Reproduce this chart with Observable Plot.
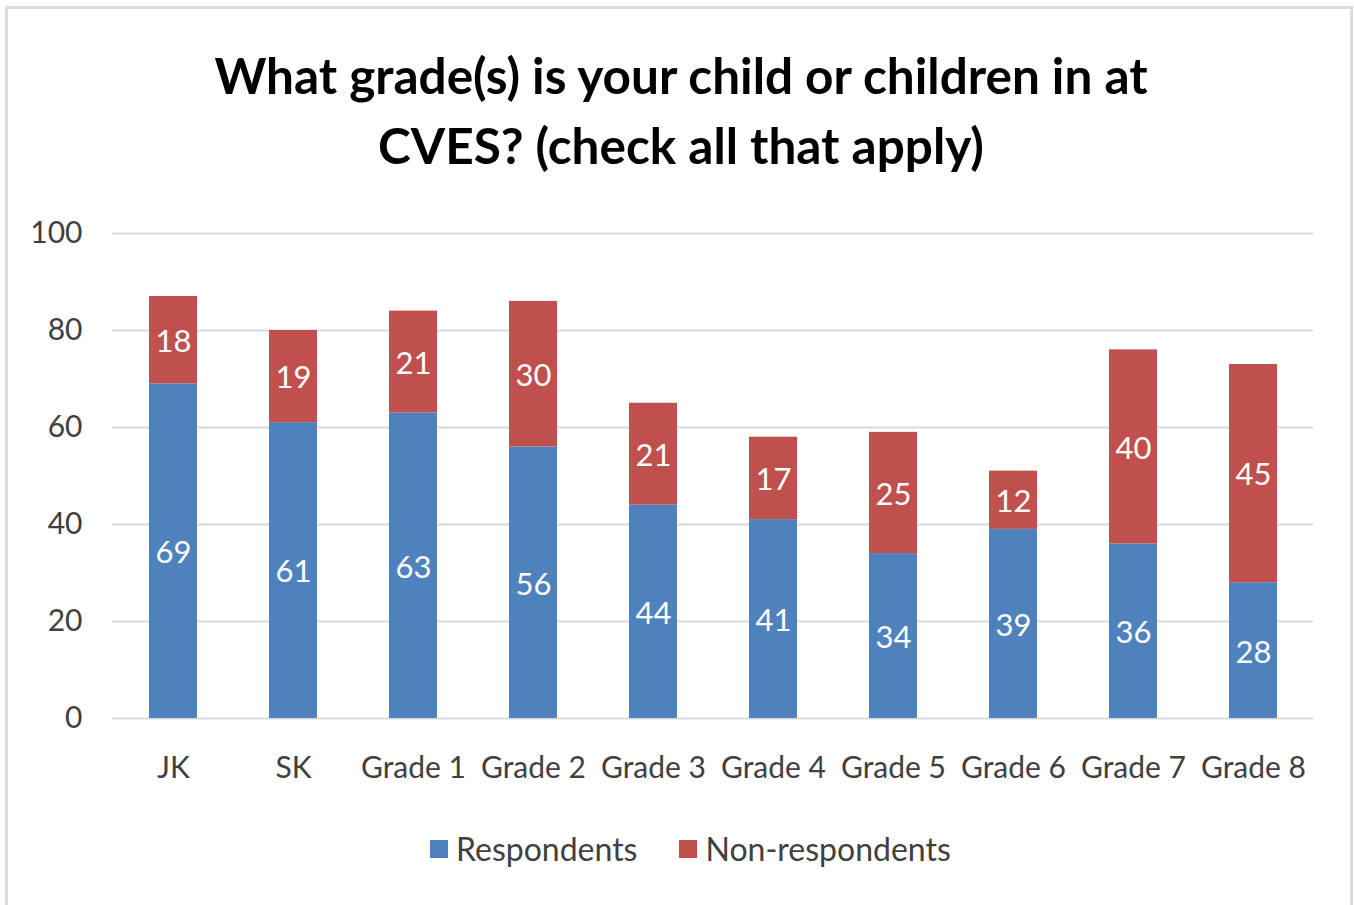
<!DOCTYPE html>
<html>
<head>
<meta charset="utf-8">
<script src="https://cdn.jsdelivr.net/npm/d3@7"></script>
<script src="https://cdn.jsdelivr.net/npm/@observablehq/plot@0.6"></script>
<style>
  html, body { margin: 0; padding: 0; background: #fff; width: 1354px; height: 905px; overflow: hidden; }
  #frame { position: absolute; left: 5px; top: 6px; width: 1348px; height: 905px; border: 3px solid #dcdcdc; box-sizing: border-box; }
  #title { position: absolute; left: 0; width: 1362px; top: 40px; text-align: center; font-family: Lato, sans-serif; font-weight: 700; font-size: 49.5px; line-height: 70px; color: #000; }
  #chart { position: absolute; left: 0; top: 200px; }
  #legend { position: absolute; left: 430px; top: 829px; font-family: Lato, sans-serif; font-size: 32px; color: #404040; display: flex; align-items: center; }
  .sw { display: inline-block; width: 18px; height: 18px; margin-right: 8px; }
  .item { display: flex; align-items: center; margin-right: 42px; }
</style>
</head>
<body>
<div id="frame"></div>
<div id="title">What grade(s) is your child or children in at<br>CVES? (check all that apply)</div>
<div id="chart"></div>
<div id="legend"></div>
<script>
const categories = ["JK", "SK", "Grade 1", "Grade 2", "Grade 3", "Grade 4", "Grade 5", "Grade 6", "Grade 7", "Grade 8"];
const seriesNames = ["Respondents", "Non-respondents"];
const respondents = [69, 61, 63, 56, 44, 41, 34, 39, 36, 28];
const nonRespondents = [18, 19, 21, 30, 21, 17, 25, 12, 40, 45];
const yTicks = [0, 20, 40, 60, 80, 100];
const colors = ["#4F81BD", "#C0504D"];

const data = [];
categories.forEach((c, i) => {
  data.push({category: c, series: seriesNames[0], value: respondents[i]});
  data.push({category: c, series: seriesNames[1], value: nonRespondents[i]});
});

const chart = Plot.plot({
  width: 1354,
  height: 600,
  marginLeft: 112,
  marginRight: 41,
  marginTop: 33,
  marginBottom: 82,
  style: {fontFamily: "Lato, sans-serif", fontSize: "30px", color: "#404040", background: "transparent"},
  x: {domain: categories, paddingInner: 0.6, paddingOuter: 0.3, label: null},
  y: {domain: [0, 100], ticks: yTicks, label: null},
  color: {domain: seriesNames, range: colors},
  marks: [
    Plot.gridY(yTicks, {stroke: "#d9d9d9", strokeOpacity: 1, strokeWidth: 2}),
    Plot.barY(data, {x: "category", y: "value", fill: "series", order: seriesNames}),
    Plot.text(data, Plot.stackY({x: "category", y: "value", z: "series", order: seriesNames, text: d => String(d.value), fill: "white", fontSize: 31, dy: 2})),
    Plot.axisX({tickSize: 0, tickPadding: 38, fontSize: 30}),
    Plot.axisY({ticks: yTicks, tickSize: 0, tickPadding: 30, fontSize: 30})
  ]
});
document.getElementById("chart").appendChild(chart);

const legend = document.getElementById("legend");
seriesNames.forEach((s, i) => {
  const item = document.createElement("div");
  item.className = "item";
  const sw = document.createElement("span");
  sw.className = "sw";
  sw.style.background = colors[i];
  item.appendChild(sw);
  item.appendChild(document.createTextNode(s));
  legend.appendChild(item);
});
</script>
</body>
</html>
